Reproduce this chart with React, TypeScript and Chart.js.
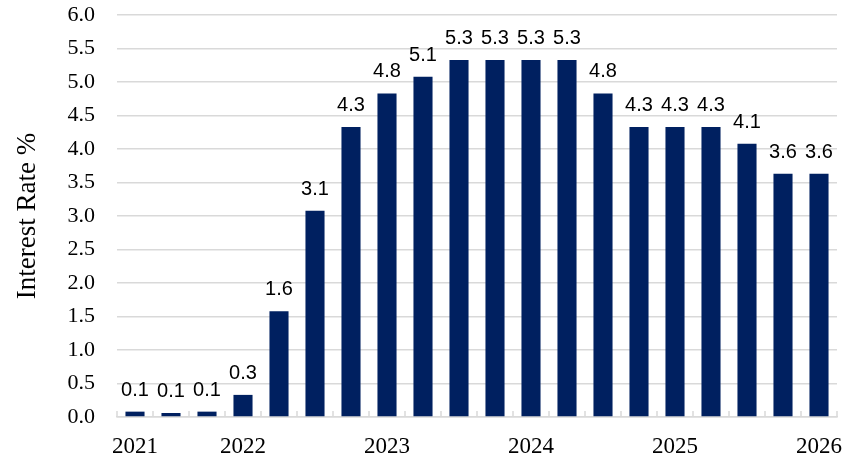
import React, { useEffect, useRef } from "react";
import { Chart, registerables } from "chart.js";

Chart.register(...registerables);

// quarterly policy rate, one bar per quarter (2021 Q1 .. 2025 Q4)
const yearLabels = [
  "2021", "", "", "2022", "", "", "", "2023", "", "", "",
  "2024", "", "", "", "2025", "", "", "", "2026",
];
const rates = [
  0.08, 0.06, 0.08, 0.33, 1.58, 3.08, 4.33, 4.83, 5.08, 5.33,
  5.33, 5.33, 5.33, 4.83, 4.33, 4.33, 4.33, 4.08, 3.63, 3.63,
];
const yTicks = { min: 0, max: 6, step: 0.5 };

const barColor = "#002060";
const gridColor = "#d9d9d9";
const serif = '"Liberation Serif", "Times New Roman", serif';

// value labels above each bar
const barLabels = {
  id: "barLabels",
  afterDatasetsDraw(chart: Chart) {
    const ctx = chart.ctx;
    const meta = chart.getDatasetMeta(0);
    ctx.save();
    ctx.font = '20px "Liberation Sans", Arial, sans-serif';
    ctx.fillStyle = "#000";
    ctx.textAlign = "center";
    ctx.textBaseline = "alphabetic";
    meta.data.forEach((bar: any, i: number) => {
      ctx.fillText(rates[i].toFixed(1), bar.x, bar.y - 16);
    });
    ctx.restore();
  },
};

// small tick marks pointing up from the axis, between categories
const insideTicks = {
  id: "insideTicks",
  afterDraw(chart: Chart) {
    const ctx = chart.ctx;
    const x = chart.scales.x;
    const bottom = chart.chartArea.bottom;
    ctx.save();
    ctx.strokeStyle = gridColor;
    ctx.lineWidth = 1.5;
    ctx.beginPath();
    for (let i = 0; i <= rates.length; i++) {
      const px = x.getPixelForValue(i - 0.5);
      ctx.moveTo(px, bottom);
      ctx.lineTo(px, bottom - 6);
    }
    ctx.stroke();
    ctx.restore();
  },
};

export default function App() {
  const chartRef = useRef<HTMLCanvasElement>(null);

  useEffect(() => {
    document.body.style.margin = "0";
    const ctx = chartRef.current?.getContext("2d");
    if (!ctx) return;
    const chart = new Chart(ctx, {
      type: "bar",
      data: {
        labels: yearLabels,
        datasets: [
          {
            data: rates,
            backgroundColor: barColor,
            categoryPercentage: 1,
            barPercentage: 0.53,
          },
        ],
      },
      options: {
        responsive: true,
        maintainAspectRatio: false,
        animation: false,
        layout: { padding: { left: 0, top: 15, right: 28, bottom: 0 } },
        plugins: {
          legend: { display: false },
          tooltip: { enabled: false },
        },
        scales: {
          x: {
            grid: { display: false, drawTicks: false },
            border: { display: true, color: gridColor, width: 1.5 },
            ticks: {
              autoSkip: false,
              maxRotation: 0,
              padding: 16,
              color: "#000",
              font: { family: serif, size: 23 },
            },
            afterFit: (scale: any) => {
              scale.height = 47;
              scale.paddingLeft = 0;
              scale.paddingRight = 0;
            },
          },
          y: {
            min: yTicks.min,
            max: yTicks.max,
            grid: { color: gridColor, lineWidth: 1.5, drawTicks: false },
            border: { display: false },
            ticks: {
              stepSize: yTicks.step,
              padding: 22,
              color: "#000",
              font: { family: serif, size: 22 },
              callback: (v: any) => Number(v).toFixed(1),
            },
            title: {
              display: true,
              text: "Interest Rate %",
              color: "#000",
              font: { family: serif, size: 27 },
              padding: { top: 12, bottom: 0 },
            },
            afterFit: (scale: any) => {
              scale.width = 117;
              scale.paddingTop = 0;
              scale.paddingBottom = 0;
            },
          },
        },
      },
      plugins: [barLabels, insideTicks],
    });
    return () => {
      chart.destroy();
    };
  }, []);

  return (
    <div style={{ width: 865, height: 464, position: "relative", background: "#fff" }}>
      <canvas ref={chartRef} />
    </div>
  );
}
